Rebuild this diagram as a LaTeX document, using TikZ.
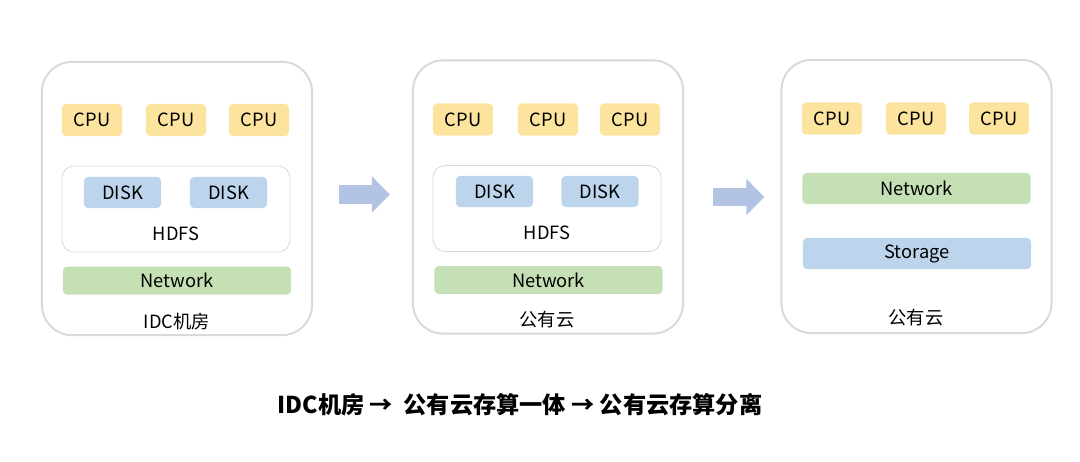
\documentclass[tikz,border=0pt]{standalone}
\usepackage{fontspec}
\setmainfont{Noto Sans CJK SC}
\usepackage{tikz}
\usetikzlibrary{positioning, arrows.meta}
\definecolor{cpuyellow}{HTML}{FCE49E}
\definecolor{diskblue}{HTML}{BDD5EC}
\definecolor{netgreen}{HTML}{C6E0B5}
\definecolor{panelgray}{HTML}{D8D9DE}
\definecolor{arrowblue}{HTML}{B3C3E3}
\tikzset{
    panel/.style={
        draw=panelgray,
        line width=1.4pt,
        rounded corners=0.75cm,
        minimum width=6.75cm,
        minimum height=6.83cm
    },
    cpu/.style={
        fill=cpuyellow,
        rounded corners=0.1cm,
        minimum width=1.5cm,
        minimum height=0.8cm,
        font=\fontsize{13}{15}\selectfont
    },
    disk/.style={
        fill=diskblue,
        rounded corners=0.1cm,
        minimum width=1.925cm,
        minimum height=0.775cm,
        font=\fontsize{13}{15}\selectfont
    },
    hdfsbox/.style={
        draw=panelgray,
        line width=0.6pt,
        rounded corners=0.3cm,
        minimum width=5.7cm,
        minimum height=2.15cm
    },
    bar/.style={
        rounded corners=0.1cm,
        minimum width=5.7cm,
        minimum height=0.7cm,
        font=\fontsize{13}{15}\selectfont
    },
    caption/.style={
        font=\fontsize{13}{15}\selectfont
    },
    fatarrow/.style={
        draw=arrowblue,
        line width=0.45cm,
        -{Triangle[length=0.45cm, width=0.875cm, fill=arrowblue]}
    }
}

\begin{document}
\begin{tikzpicture}[x=0.025cm, y=-0.025cm]
            % Frame :
            \useasboundingbox (0,0) rectangle (1080,461);

            % IDC room
            \node (panelA) [panel] at (177,198.5) {};
            \node (cpuA1) [cpu] at (92,120) {CPU};
            \node (cpuA2) [cpu] at (176,120) {CPU};
            \node (cpuA3) [cpu] at (259,120) {CPU};
            \node (hdfsA) [hdfsbox] at (176,209) {};
            \node (diskA1) [disk] at (122.5,192.5) {DISK};
            \node (diskA2) [disk] at (228.5,192.5) {DISK};
            \node (hdfsAtext) [caption] at (176,234) {HDFS};
            \node (netA) [bar, fill=netgreen] at (177,280.5) {Network};
            \node (capA) [caption] at (177,322) {IDC机房};

            % Public cloud, coupled
            \node (panelB) [panel] at (548,197) {};
            \node (cpuB1) [cpu] at (463,119.5) {CPU};
            \node (cpuB2) [cpu] at (548,119.5) {CPU};
            \node (cpuB3) [cpu] at (630,119.5) {CPU};
            \node (hdfsB) [hdfsbox] at (547,208.5) {};
            \node (diskB1) [disk] at (494.5,191.5) {DISK};
            \node (diskB2) [disk] at (600,191.5) {DISK};
            \node (hdfsBtext) [caption] at (547,233) {HDFS};
            \node (netB) [bar, fill=netgreen] at (548.5,280) {Network};
            \node (capB) [caption] at (547,320) {公有云};

            % Public cloud, separated
            \node (panelC) [panel] at (916.5,196.5) {};
            \node (cpuC1) [cpu] at (832,118.5) {CPU};
            \node (cpuC2) [cpu] at (916,118.5) {CPU};
            \node (cpuC3) [cpu] at (999,118.5) {CPU};
            \node (netC) [bar, fill=netgreen, minimum height=0.775cm] at (916.5,188.5) {Network};
            \node (storeC) [bar, fill=diskblue, minimum height=0.775cm] at (917,253.5) {Storage};
            \node (capC) [caption] at (916,318) {公有云};

            % Arrows
            \draw [fatarrow, shorten <=0.65cm, shorten >=0.55cm]
                ([yshift=0.1cm]panelA.east) -- ([yshift=0.1cm]panelA.east -| panelB.west);
            \draw [fatarrow, shorten <=0.72cm, shorten >=0.4cm]
                (panelB.east) -- (panelB.east -| panelC.west);

            % Title
            \node (title) [font=\bfseries\fontsize{16.5}{20}\selectfont] at (520,405)
                {IDC机房 → \ 公有云存算一体 → 公有云存算分离};
\end{tikzpicture}
\end{document}
